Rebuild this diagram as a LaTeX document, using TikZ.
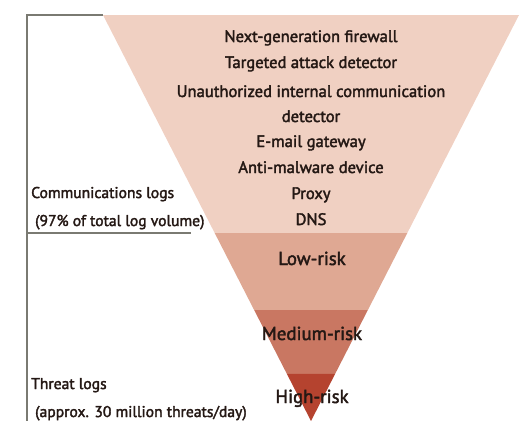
\documentclass[tikz,border=0pt]{standalone}
\usepackage{fontspec}
\setmainfont{PT Sans}
\newfontfamily\labelfont{PT Sans}[FakeBold=2.2]
\usetikzlibrary{calc}
\definecolor{bandA}{HTML}{F0D0C2}
\definecolor{bandB}{HTML}{DFA893}
\definecolor{bandC}{HTML}{C97762}
\definecolor{bandD}{HTML}{B5432F}
\definecolor{ink}{HTML}{241814}
\definecolor{rule}{HTML}{7A7A72}
\tikzset{
  item/.style={text=ink, font=\labelfont\fontsize{16.6}{18}\selectfont, inner sep=0pt, anchor=base},
  risk/.style={text=ink, font=\labelfont\fontsize{18.8}{20}\selectfont, inner sep=0pt, anchor=base},
  side/.style={text=ink, font=\labelfont\fontsize{15.6}{17}\selectfont, inner sep=0pt, anchor=base west},
  bracket/.style={draw=rule, line width=1.3pt}
}
\begin{document}
\begin{tikzpicture}[x=1pt,y=-1pt]
\useasboundingbox (0,0) rectangle (524,421);
\clip (0,0) rectangle (524,421);
% funnel corners
\coordinate (L) at (103,15);
\coordinate (R) at (519,15);
\coordinate (A) at (311,421);
% band boundaries along the two edges
\coordinate (L1) at ($(L)!0.537!(A)$);
\coordinate (R1) at ($(R)!0.537!(A)$);
\coordinate (L2) at ($(L)!0.7266!(A)$);
\coordinate (R2) at ($(R)!0.7266!(A)$);
\coordinate (L3) at ($(L)!0.8842!(A)$);
\coordinate (R3) at ($(R)!0.8842!(A)$);
\fill[bandA] (L) -- (R) -- (R1) -- (L1) -- cycle;
\fill[bandB] (L1) -- (R1) -- (R2) -- (L2) -- cycle;
\fill[bandC] (L2) -- (R2) -- (R3) -- (L3) -- cycle;
\fill[bandD] (L3) -- (R3) -- (A) -- cycle;
% bracket on the left
\coordinate (BT) at (27,15);
\coordinate (BB) at (27,421);
\coordinate (BM) at (27,233);
\coordinate (BE) at (191,233);
\draw[bracket] (L) -- (BT) -- (BB);
\draw[bracket] (BM) -- (BE);
% sources of communications logs
\node[item] (n1) at (311,42) {Next-generation firewall};
\node[item] (n2) at (311,68) {Targeted attack detector};
\node[item] (n3) at (311,97) {Unauthorized internal communication};
\node[item] (n4) at (311,122) {detector};
\node[item] (n5) at (311,147) {E-mail gateway};
\node[item] (n6) at (311,173) {Anti-malware device};
\node[item] (n7) at (311,199) {Proxy};
\node[item] (n8) at (311,225) {DNS};
% risk levels
\node[risk] (lo) at (312,265) {Low-risk};
\node[risk] (me) at (312,340) {Medium-risk};
\node[risk] (hi) at (312,403) {High-risk};
% side labels
\node[side] (c1) at (31,198) {Communications logs};
\node[side] (c2) at (35,226) {(97\% of total log volume)};
\node[side] (t1) at (31,389) {Threat logs};
\node[side] (t2) at (35,417) {(approx. 30 million threats/day)};
\end{tikzpicture}
\end{document}
